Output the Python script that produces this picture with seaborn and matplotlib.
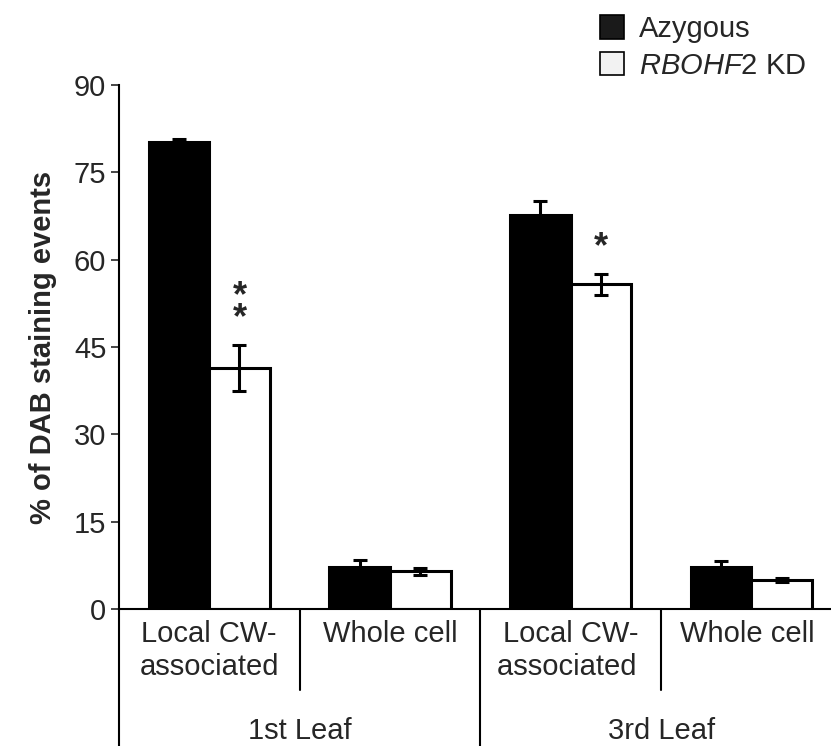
import pandas as pd
import numpy as np
import matplotlib
matplotlib.use("Agg")
import matplotlib.pyplot as plt
from matplotlib.patches import Patch
import seaborn as sns

# data
categories = ["Local CW-\nassociated", "Whole cell", "Local CW-\nassociated ", "Whole cell "]
leaves = ["1st Leaf", "3rd Leaf"]
genotypes = ["Azygous", "RBOHF2 KD"]
azygous = [80.3, 7.2, 67.6, 7.2]
azygous_err = [0.5, 1.2, 2.4, 1.0]
kd = [41.4, 6.5, 55.8, 5.0]
kd_err = [4.0, 0.6, 1.8, 0.4]
stars = ["*\n*", "", "*", ""]

sns.set_theme(style="white")
plt.rcParams["font.family"] = ["Liberation Sans", "DejaVu Sans"]
plt.rcParams["mathtext.fontset"] = "custom"
plt.rcParams["mathtext.it"] = "Liberation Sans:italic"
plt.rcParams["mathtext.rm"] = "Liberation Sans"

df = pd.DataFrame({
    "cat": categories * 2,
    "val": azygous + kd,
    "geno": [genotypes[0]] * 4 + [genotypes[1]] * 4,
})

fig = plt.figure(figsize=(8.31, 7.46), dpi=100)
ax = fig.add_axes([0.143, 0.1836, 0.857, 0.7024])

sns.barplot(data=df, x="cat", y="val", hue="geno", order=categories,
            hue_order=genotypes, palette=["black", "white"], errorbar=None,
            width=0.67, edgecolor="black", linewidth=2.2, ax=ax, legend=False)

# error bars at bar centres
bars = ax.patches
vals = azygous + kd
errs = azygous_err + kd_err
for b, v, e in zip(bars, vals, errs):
    xc = b.get_x() + b.get_width() / 2
    ax.errorbar(xc, v, yerr=e, fmt="none", ecolor="black", elinewidth=2.2,
                capsize=5, capthick=2.2, zorder=5)

# significance stars above RBOHF2 bars
for b, v, e, s in zip(bars[4:], kd, kd_err, stars):
    if s:
        xc = b.get_x() + b.get_width() / 2
        ax.text(xc, v + e + 1.5, s, ha="center", va="bottom", fontsize=26,
                fontweight="bold", linespacing=0.5)

ax.set_ylim(0, 90)
ax.set_xlim(-0.5, 3.44)
ax.set_yticks(np.arange(0, 91, 15))
ax.tick_params(axis="y", left=True, length=6, width=1.2, labelsize=21, pad=3)
ax.tick_params(axis="x", bottom=False, labelsize=21, pad=2)
ax.set_xlabel("")
ax.set_ylabel("% of DAB staining events", fontsize=21, fontweight="bold", labelpad=12)

for side in ["top", "right"]:
    ax.spines[side].set_visible(False)
for side in ["left", "bottom"]:
    ax.spines[side].set_color("black")
    ax.spines[side].set_linewidth(1.5)

# separators below the axis
trans = ax.get_xaxis_transform()
for xs, ybot in [(-0.5, -0.27), (0.5, -0.155), (1.5, -0.27), (2.5, -0.155)]:
    ax.plot([xs, xs], [0, ybot], transform=trans, color="black", lw=1.5,
            clip_on=False)
for i, leaf in enumerate(leaves):
    ax.text(0.5 + 2 * i, -0.232, leaf, transform=trans, ha="center",
            va="center", fontsize=21)

handles = [Patch(facecolor="#1a1a1a", edgecolor="black", lw=1.2),
           Patch(facecolor="#f2f2f2", edgecolor="black", lw=1.2)]
fig.legend(handles, ["Azygous", r"$\it{RBOHF2}$ KD"], loc="upper left",
           bbox_to_anchor=(0.69, 1.015), frameon=False, fontsize=21,
           handlelength=0.85, handleheight=0.85, handletextpad=0.5,
           labelspacing=0.3)

fig.savefig("out.png", dpi=100)
